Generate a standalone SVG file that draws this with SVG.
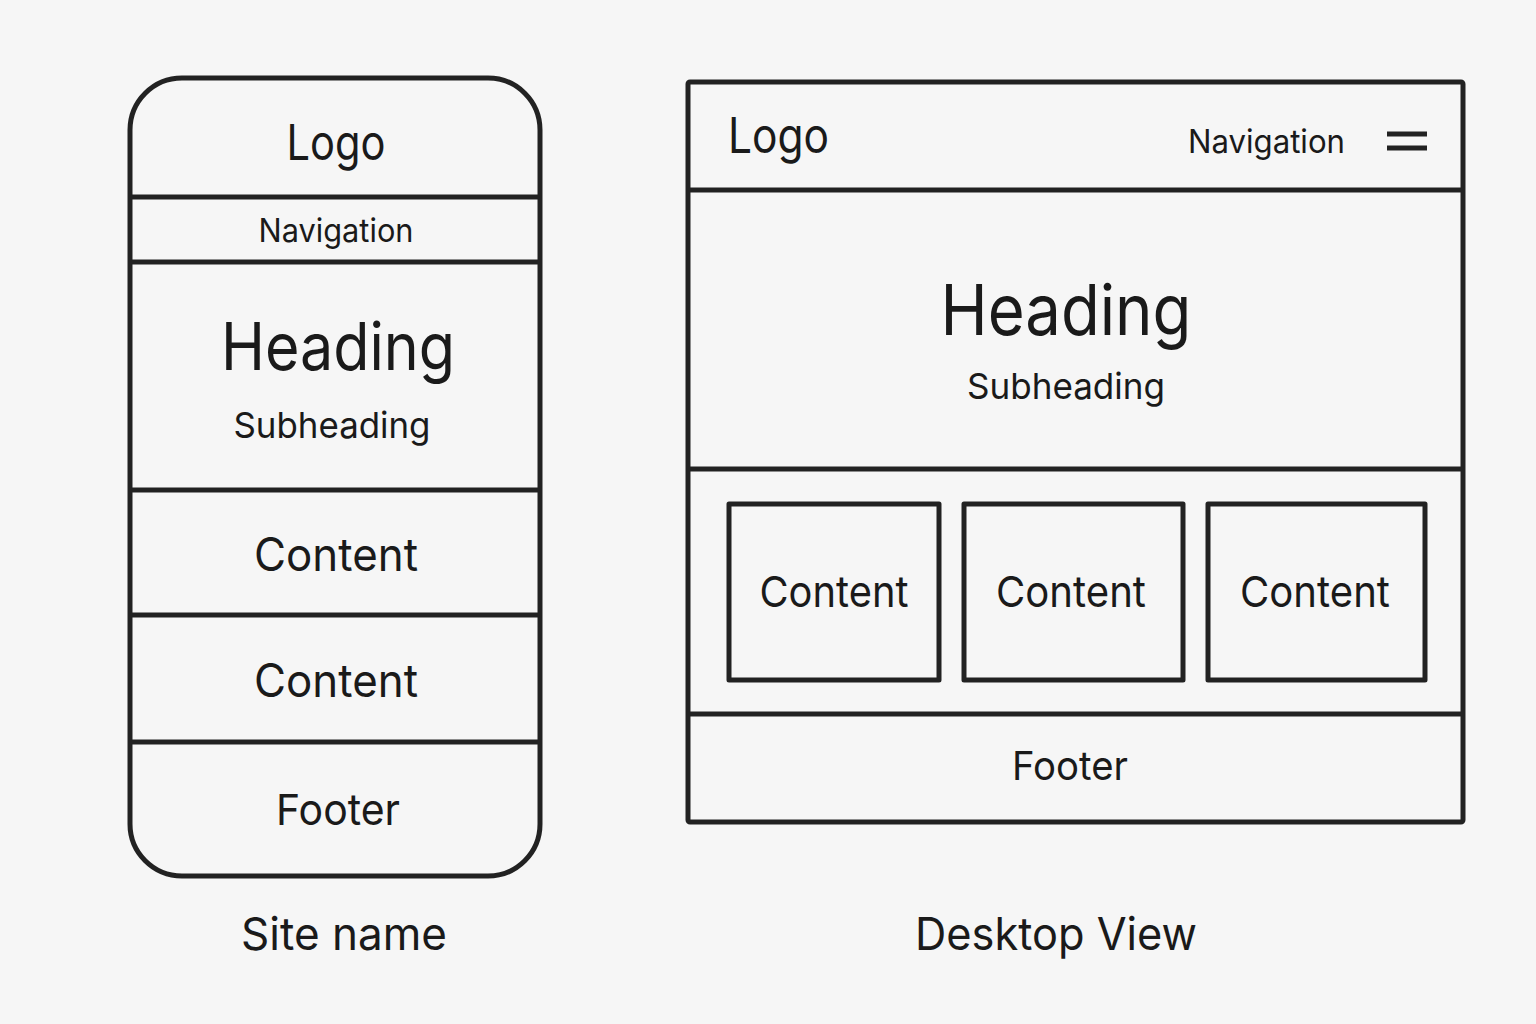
<svg xmlns="http://www.w3.org/2000/svg" width="1536" height="1024" viewBox="0 0 1536 1024">
<style>
.box{fill:none;stroke:#222;stroke-width:5;stroke-linejoin:round}
.ln{stroke:#222;stroke-width:5}
text{font-family:Inter,"Noto Sans","Liberation Sans",sans-serif;fill:#1a1a1a}
.c{text-anchor:middle}
</style>
<rect width="1536" height="1024" fill="#f6f6f6"/>
<g id="mobile">
<rect class="box" x="130" y="78" width="410" height="798" rx="52"/>
<line class="ln" x1="130" y1="197" x2="540" y2="197"/>
<line class="ln" x1="130" y1="262" x2="540" y2="262"/>
<line class="ln" x1="130" y1="490" x2="540" y2="490"/>
<line class="ln" x1="130" y1="615" x2="540" y2="615"/>
<line class="ln" x1="130" y1="742" x2="540" y2="742"/>
<text class="c" x="336" y="160" font-size="49" textLength="99" lengthAdjust="spacingAndGlyphs">Logo</text>
<text class="c" x="336" y="242" font-size="33" textLength="155" lengthAdjust="spacingAndGlyphs">Navigation</text>
<text class="c" x="338" y="370" font-size="66" textLength="234" lengthAdjust="spacingAndGlyphs">Heading</text>
<text class="c" x="332" y="438" font-size="36" textLength="197" lengthAdjust="spacingAndGlyphs">Subheading</text>
<text class="c" x="336" y="571" font-size="46" textLength="164" lengthAdjust="spacingAndGlyphs">Content</text>
<text class="c" x="336" y="697" font-size="46" textLength="164" lengthAdjust="spacingAndGlyphs">Content</text>
<text class="c" x="338" y="825" font-size="43" textLength="124" lengthAdjust="spacingAndGlyphs">Footer</text>
</g>
<g id="desktop">
<rect class="box" x="688" y="82" width="775" height="740" rx="2"/>
<line class="ln" x1="688" y1="190" x2="1463" y2="190"/>
<line class="ln" x1="688" y1="469" x2="1463" y2="469"/>
<line class="ln" x1="688" y1="714" x2="1463" y2="714"/>
<line class="ln" x1="1387" y1="134" x2="1427" y2="134"/>
<line class="ln" x1="1387" y1="148" x2="1427" y2="148"/>
<text x="728" y="153" font-size="49" textLength="101" lengthAdjust="spacingAndGlyphs">Logo</text>
<text x="1188" y="153" font-size="33" textLength="157" lengthAdjust="spacingAndGlyphs">Navigation</text>
<text class="c" x="1066" y="335" font-size="70" textLength="251" lengthAdjust="spacingAndGlyphs">Heading</text>
<text class="c" x="1066" y="399" font-size="36" textLength="198" lengthAdjust="spacingAndGlyphs">Subheading</text>
<text class="c" x="1070" y="780" font-size="40" textLength="116" lengthAdjust="spacingAndGlyphs">Footer</text>
</g>
<g id="content1"><rect class="box" x="729" y="504" width="210" height="176"/><text class="c" x="834" y="607" font-size="43" textLength="149" lengthAdjust="spacingAndGlyphs">Content</text></g>
<g id="content2"><rect class="box" x="964" y="504" width="219" height="176"/><text class="c" x="1071" y="607" font-size="43" textLength="150" lengthAdjust="spacingAndGlyphs">Content</text></g>
<g id="content3"><rect class="box" x="1208" y="504" width="217" height="176"/><text class="c" x="1315" y="607" font-size="43" textLength="150" lengthAdjust="spacingAndGlyphs">Content</text></g>
<g id="captions">
<text class="c" x="344" y="950" font-size="45" textLength="206" lengthAdjust="spacingAndGlyphs">Site name</text>
<text class="c" x="1056" y="950" font-size="45" textLength="282" lengthAdjust="spacingAndGlyphs">Desktop View</text>
</g>
<g id="connectors"></g>
</svg>
